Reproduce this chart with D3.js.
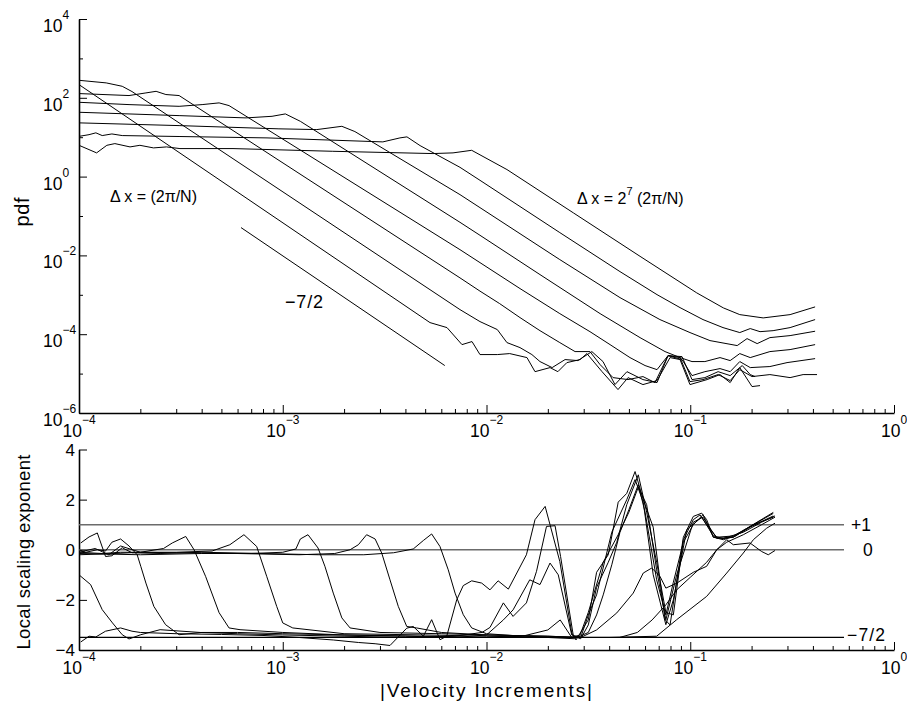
<!DOCTYPE html>
<html><head><meta charset="utf-8">
<script src="https://cdn.jsdelivr.net/npm/d3@7"></script>
<style>
body{margin:0;background:#fff;}
svg{display:block;}
text{font-family:"Liberation Sans",Arial,Helvetica,sans-serif;fill:#000;}
</style>
</head><body>
<svg id="chart" width="907" height="704"></svg>
<script>
// ---------------- DATA ----------------
const xTickExps = [-4, -3, -2, -1, 0];
const yTopMajorExps = [4, 2, 0, -2, -4, -6];
const yTopMinorExps = [3, 1, -1, -3, -5];
const yBotTicks = [4, 2, 0, -2, -4];

// pdf of |velocity increments| for separations dx = 2^k (2pi/N), k = 0..7
const pdf_r1 = [[1.00e-4,216],[5.28e-3,1.97e-4],[6.40e-3,1.47e-4],[7.58e-3,5.44e-5],[8.49e-3,6.5e-5],[9.29e-3,3.04e-5],[1.13e-2,3.04e-5],[1.30e-2,3.22e-5],[1.58e-2,2.55e-5],[1.73e-2,1.12e-5],[2.05e-2,1.42e-5],[2.24e-2,1.12e-5],[2.48e-2,1.90e-5],[2.88e-2,2.27e-5],[3.11e-2,3.22e-5],[3.69e-2,1.12e-5],[4.42e-2,3.93e-6],[4.95e-2,7.91e-6],[5.86e-2,5.26e-6],[6.87e-2,6.64e-6],[7.96e-2,2.55e-5],[8.91e-2,2.27e-5],[9.97e-2,5.26e-6],[0.121,7.05e-6],[0.140,9.44e-6],[0.157,5.91e-6],[0.175,1.42e-5],[0.201,4.68e-6],[0.220,4.96e-6]];
const pdf_r2 = [[1.00e-4,278],[1.36e-4,239],[1.63e-4,196],[1.82e-4,144],[7.41e-3,4.21e-4],[9.29e-3,2.09e-4],[1.13e-2,1.31e-4],[1.26e-2,6.12e-5],[1.46e-2,4.57e-5],[1.67e-2,3.04e-5],[1.83e-2,2.02e-5],[2.10e-2,1.42e-5],[2.43e-2,2.27e-5],[2.81e-2,2.14e-5],[3.29e-2,3.62e-5],[3.73e-2,2.02e-5],[4.27e-2,5.26e-6],[4.89e-2,1.12e-5],[5.86e-2,7.05e-6],[6.87e-2,5.91e-6],[7.78e-2,2.86e-5],[9.11e-2,2.70e-5],[0.102,7.05e-6],[0.118,7.91e-6],[0.137,1.12e-5],[0.157,8.90e-6],[0.180,1.60e-5],[0.197,9.44e-6],[0.208,8.40e-6]];
const pdf_r4 = [[1.00e-4,128],[1.76e-4,114],[2.13e-4,133],[2.39e-4,146],[2.67e-4,121],[3.10e-4,114],[7.41e-3,2.69e-3],[9.29e-3,1.24e-3],[1.16e-2,5.98e-4],[1.46e-2,2.64e-4],[1.83e-2,1.23e-4],[2.29e-2,6.12e-5],[2.72e-2,3.62e-5],[3.22e-2,3.62e-5],[3.61e-2,1.69e-5],[4.18e-2,7.91e-6],[4.95e-2,7.05e-6],[5.86e-2,8.40e-6],[6.71e-2,5.91e-6],[7.78e-2,2.86e-5],[8.91e-2,2.55e-5],[9.97e-2,6.26e-6],[0.1155,7.05e-6],[0.137,9.44e-6],[0.157,6.64e-6],[0.175,1.26e-5],[0.201,8.40e-6],[0.246,9.44e-6],[0.309,7.91e-6],[0.358,9.44e-6],[0.419,9.44e-6]];
const pdf_r8 = [[1.00e-4,76.9],[1.76e-4,67.2],[3.10e-4,60.8],[4.02e-4,67.2],[4.87e-4,74.3],[5.45e-4,63.4],[7.41e-3,1.40e-2],[9.29e-3,6.56e-3],[1.46e-2,1.44e-3],[2.29e-2,3.33e-4],[3.22e-2,1.16e-4],[4.04e-2,5.44e-5],[5.06e-2,2.55e-5],[6.00e-2,1.60e-5],[6.87e-2,1.26e-5],[7.78e-2,2.86e-5],[9.11e-2,2.27e-5],[0.102,8.90e-6],[0.118,1.12e-5],[0.140,1.34e-5],[0.157,1.12e-5],[0.175,2.02e-5],[0.197,1.42e-5],[0.246,1.51e-5],[0.2985,1.90e-5],[0.41,2.40e-5]];
const pdf_r16 = [[1.00e-4,42.9],[3.10e-4,35.3],[6.60e-4,30.9],[8.86e-4,33.9],[1.03e-3,39.0],[1.22e-3,25.3],[7.41e-3,0.0692],[9.29e-3,0.0324],[1.83e-2,3.26e-3],[3.61e-2,3.33e-4],[5.67e-2,8.19e-5],[7.52e-2,3.62e-5],[8.91e-2,2.55e-5],[0.102,2.02e-5],[0.118,2.02e-5],[0.140,2.55e-5],[0.157,2.14e-5],[0.175,3.22e-5],[0.197,2.55e-5],[0.246,3.62e-5],[0.309,4.07e-5],[0.41,5.44e-5]];
const pdf_r32 = [[1.00e-4,23.1],[3.10e-4,19.7],[9.58e-4,16.3],[1.47e-3,15.6],[1.95e-3,18.9],[2.26e-3,13.9],[7.41e-3,0.349],[9.29e-3,0.163],[2.29e-2,7.82e-3],[4.52e-2,8.49e-4],[7.10e-2,2.35e-4],[9.97e-2,1.10e-4],[0.125,6.88e-5],[0.170,5.14e-5],[0.190,7.73e-5],[0.213,5.77e-5],[0.246,8.19e-5],[0.309,9.21e-5],[0.41,1.19e-4]];
const pdf_r64 = [[1.00e-4,10.5],[1.12e-4,11.6],[1.21e-4,12.9],[1.30e-4,11.0],[1.45e-4,12.1],[1.63e-4,11.0],[3.13e-4,10.4],[8.37e-4,9.60],[3.10e-3,7.60],[3.76e-3,9.60],[4.07e-3,10.2],[4.72e-3,6.12],[7.41e-3,1.72],[9.29e-3,0.805],[2.29e-2,0.0379],[4.52e-2,3.88e-3],[6.87e-2,1.01e-3],[8.91e-2,4.73e-4],[0.1155,2.35e-4],[0.1448,1.47e-4],[0.175,1.10e-4],[0.197,1.39e-4],[0.220,1.16e-4],[0.255,1.23e-4],[0.309,1.47e-4],[0.41,2.35e-4]];
const pdf_r128 = [[1.00e-4,6.23],[1.22e-4,4.00],[1.37e-4,6.23],[1.50e-4,6.88],[1.78e-4,5.67],[1.99e-4,6.23],[2.32e-4,5.35],[2.69e-4,5.67],[3.13e-4,5.14],[5.70e-4,5.14],[1.76e-3,4.39],[5.46e-3,3.84],[6.85e-3,4.00],[8.46e-3,4.65],[1.26e-2,1.51],[2.67e-2,0.120],[5.67e-2,9.48e-3],[0.1076,1.12e-3],[0.1453,4.66e-4],[0.175,3.14e-4],[0.228,2.59e-4],[0.309,3.14e-4],[0.41,4.93e-4]];

// reference -7/2 slope segment
const slopeRef = [[6.24e-4,0.0508],[6.24e-3,1.6e-5]];

// local scaling exponent d(log pdf)/d(log |du|)
const lse_r1 = [[1.02e-4,-3.68],[1.12e-4,-3.45],[1.21e-4,-3.48],[1.35e-4,-3.25],[1.60e-4,-3.12],[1.82e-4,-3.25],[2.0e-4,-3.3],[3.0e-4,-3.35],[5e-4,-3.38],[8e-4,-3.42],[1.2e-3,-3.5],[1.77e-3,-3.6],[2.35e-3,-3.7],[2.84e-3,-3.75],[3.36e-3,-3.82],[4.06e-3,-3.13],[4.37e-3,-3.06],[4.90e-3,-3.45],[5.38e-3,-2.79],[5.91e-3,-3.59],[6.38e-3,-3.45],[7.14e-3,-2.0],[7.69e-3,-1.43],[8.46e-3,-1.24],[9.47e-3,-1.33],[1.04e-2,-1.6],[1.14e-2,-1.24],[1.28e-2,-1.57],[1.57e-2,-0.2],[1.73e-2,1.2],[1.94e-2,1.73],[2.05e-2,1.0],[2.29e-2,-0.47],[2.62e-2,-3.32],[2.75e-2,-3.6],[3.16e-2,-2.8],[3.47e-2,-0.9],[3.96e-2,-0.2],[4.43e-2,1.9],[4.88e-2,2.25],[5.36e-2,3.12],[5.88e-2,2.0],[6.58e-2,0.9],[7.52e-2,-2.79],[7.96e-2,-3.0],[9.25e-2,0.5],[0.1035,1.33],[0.1138,1.46],[0.1204,1.2],[0.1298,0.5],[0.1453,0.4],[0.1627,0.53],[0.1965,0.93],[0.2555,1.49]];
const lse_r2 = [[1.0e-4,-1.0],[1.14e-4,-1.39],[1.30e-4,-2.39],[1.46e-4,-2.92],[1.63e-4,-3.39],[1.76e-4,-3.56],[2.01e-4,-3.39],[2.5e-4,-3.19],[3.93e-4,-3.3],[6e-4,-3.35],[1e-3,-3.4],[2e-3,-3.45],[4e-3,-3.5],[7e-3,-3.45],[9.5e-3,-3.3],[1.04e-2,-3.1],[1.21e-2,-2.12],[1.35e-2,-2.66],[1.57e-2,-2.12],[1.76e-2,-0.86],[1.97e-2,0.93],[2.17e-2,0.96],[2.31e-2,-0.27],[2.67e-2,-3.45],[2.9e-2,-3.55],[3.16e-2,-3.0],[3.47e-2,-1.5],[3.96e-2,-0.5],[4.36e-2,0.3],[4.88e-2,1.8],[5.56e-2,2.99],[6.11e-2,1.5],[6.84e-2,-0.5],[7.59e-2,-2.5],[8.26e-2,-2.6],[9.25e-2,0.4],[0.1035,1.2],[0.1117,1.39],[0.1204,1.0],[0.1349,0.5],[0.1627,0.55],[0.1893,0.85],[0.2040,1.0],[0.2555,1.45]];
const lse_r4 = [[1.0e-4,0.0],[1.08e-4,-0.1],[1.23e-4,0.0],[1.35e-4,-0.05],[1.45e-4,0.3],[1.60e-4,0.43],[1.76e-4,0.15],[1.93e-4,-0.2],[2.01e-4,-0.66],[2.13e-4,-1.33],[2.33e-4,-2.26],[2.66e-4,-2.99],[3.10e-4,-3.39],[4e-4,-3.3],[6e-4,-3.3],[1e-3,-3.35],[2e-3,-3.4],[4e-3,-3.45],[7e-3,-3.5],[1.0e-2,-3.4],[1.21e-2,-2.8],[1.35e-2,-2.4],[1.63e-2,-1.2],[1.83e-2,-1.39],[2.05e-2,-0.53],[2.25e-2,-1.0],[2.62e-2,-3.4],[2.9e-2,-3.5],[3.16e-2,-2.6],[3.47e-2,-1.8],[4.12e-2,0.7],[4.88e-2,2.0],[5.36e-2,2.8],[5.88e-2,1.9],[6.58e-2,-1.0],[7.59e-2,-2.99],[8.26e-2,-2.0],[9.61e-2,0.8],[0.1138,1.3],[0.1298,0.55],[0.1453,0.45],[0.1627,0.5],[0.1965,0.9],[0.2555,1.35]];
const lse_r8 = [[1e-4,-0.1],[1.3e-4,-0.15],[1.6e-4,-0.1],[2e-4,-0.1],[2.6e-4,0.05],[2.87e-4,0.27],[3.34e-4,0.53],[3.67e-4,0.0],[4.18e-4,-1.06],[4.87e-4,-2.51],[5.45e-4,-3.12],[6.17e-4,-3.19],[1e-3,-3.3],[2e-3,-3.4],[5e-3,-3.45],[1e-2,-3.5],[1.5e-2,-3.45],[2e-2,-3.2],[2.3e-2,-2.8],[2.62e-2,-3.5],[2.88e-2,-3.4],[3.16e-2,-2.5],[3.74e-2,-0.5],[4.43e-2,0.6],[5.0e-2,1.5],[5.56e-2,2.5],[6.11e-2,1.8],[6.84e-2,-0.8],[7.59e-2,-2.8],[8.58e-2,-1.0],[0.1035,1.1],[0.1155,1.3],[0.1349,0.45],[0.1627,0.5],[0.2040,1.0],[0.2555,1.3]];
const lse_r16 = [[1e-4,-0.2],[1.5e-4,-0.15],[2e-4,-0.1],[3e-4,-0.1],[4.5e-4,-0.05],[5.5e-4,0.2],[6.45e-4,0.6],[7.45e-4,0.13],[8.34e-4,-1.06],[9.34e-4,-2.26],[1.0e-3,-2.92],[1.12e-3,-3.12],[2e-3,-3.35],[5e-3,-3.4],[1e-2,-3.45],[2e-2,-3.5],[2.7e-2,-3.55],[3.16e-2,-3.3],[3.47e-2,-2.6],[3.74e-2,-1.8],[4.12e-2,-0.6],[4.52e-2,0.7],[5.0e-2,1.6],[5.56e-2,2.6],[6.0e-2,1.5],[6.84e-2,-1.2],[7.59e-2,-2.6],[8.26e-2,-1.3],[9.25e-2,0.3],[0.1035,1.0],[0.1155,1.4],[0.1298,0.5],[0.1453,0.45],[0.1822,0.7],[0.2240,1.1],[0.2606,1.35]];
const lse_r32 = [[1e-4,-0.15],[2e-4,-0.2],[4e-4,-0.15],[7e-4,-0.15],[1.0e-3,-0.1],[1.16e-3,0.03],[1.22e-3,0.43],[1.33e-3,0.6],[1.49e-3,0.07],[1.61e-3,-0.66],[1.77e-3,-1.73],[1.95e-3,-2.72],[2.14e-3,-3.12],[3e-3,-3.3],[6e-3,-3.35],[1e-2,-3.4],[2e-2,-3.45],[2.9e-2,-3.5],[3.47e-2,-3.2],[4.36e-2,-2.52],[5.25e-2,-1.73],[5.88e-2,-0.93],[6.47e-2,-0.73],[7.1e-2,-1.06],[7.59e-2,-1.53],[8.6e-2,-1.33],[0.1035,-0.9],[0.1204,-0.66],[0.1349,0.0],[0.1510,0.4],[0.1627,0.2],[0.1965,0.27],[0.2240,-0.07],[0.2415,-0.2],[0.2606,-0.03]];
const lse_r64 = [[1e-4,-0.1],[1.2e-4,0.05],[1.4e-4,-0.2],[1.6e-4,0.15],[2e-4,-0.1],[3e-4,-0.12],[6e-4,-0.15],[1.2e-3,-0.2],[1.8e-3,-0.15],[2.14e-3,0],[2.35e-3,0.2],[2.58e-3,0.6],[2.84e-3,0.43],[3.06e-3,-0.13],[3.36e-3,-1.2],[3.69e-3,-2.26],[4.06e-3,-3.06],[4.54e-3,-3.12],[6e-3,-3.3],[1e-2,-3.4],[2e-2,-3.45],[3e-2,-3.5],[4.5e-2,-3.5],[5.5e-2,-3.3],[6.5e-2,-2.8],[7.59e-2,-2.2],[8.58e-2,-1.6],[0.1,-1.1],[0.1204,-0.5],[0.1349,0.0],[0.1510,0.3],[0.1822,0.6],[0.2240,1.0],[0.2606,1.3]];
const lse_r128 = [[1.02e-4,0.27],[1.12e-4,0.51],[1.23e-4,0.67],[1.35e-4,-0.27],[1.45e-4,-0.24],[1.63e-4,0.08],[1.82e-4,-0.12],[2.5e-4,-0.15],[4e-4,-0.1],[8e-4,-0.15],[1.5e-3,-0.2],[2.5e-3,-0.2],[3.5e-3,-0.12],[4.37e-3,0.03],[4.90e-3,0.37],[5.38e-3,0.63],[5.91e-3,0.13],[6.49e-3,-0.8],[7.01e-3,-1.73],[7.69e-3,-2.59],[8.46e-3,-3.12],[1.0e-2,-3.35],[1.5e-2,-3.45],[2.5e-2,-3.5],[4e-2,-3.5],[6.84e-2,-3.45],[8.58e-2,-2.79],[0.1204,-1.86],[0.1510,-0.93],[0.1822,-0.13],[0.2040,0.4],[0.2371,0.86],[0.2606,1.06]];

const refLevels = [1, 0, -3.5];
const refLabels = ["+1", "0", "\u22127/2"];
const refColors = ["#6b6b6b", "#6b6b6b", "#000"];

const pdfSeries = [pdf_r1, pdf_r2, pdf_r4, pdf_r8, pdf_r16, pdf_r32, pdf_r64, pdf_r128];
const lseSeries = [lse_r1, lse_r2, lse_r4, lse_r8, lse_r16, lse_r32, lse_r64, lse_r128];

// ---------------- DRAWING ----------------
const svg = d3.select("#chart");
const X0 = 79, X1 = 894;
const x = d3.scaleLog().domain([1e-4, 1]).range([X0, X1]);
const yTop = d3.scaleLog().domain([1e-6, 1e4]).range([413, 19]);
const yBot = d3.scaleLinear().domain([-4, 4]).range([650, 449.5]);

const minus = "\u2212";
function expText(e){ return e < 0 ? minus + Math.abs(e) : String(e); }

function powLabel(xPos, yBase, e, anchor){
  const t = svg.append("text").attr("x", xPos).attr("y", yBase)
    .attr("text-anchor", anchor).style("font-size", "17.5px");
  t.append("tspan").text("10");
  t.append("tspan").attr("dy", -13).style("font-size", "12px").text(expText(e));
  return t;
}

function xAxis(yPos){
  const g = svg.append("g").attr("transform", `translate(0,${yPos})`);
  const major = xTickExps.map(e => Math.pow(10, e));
  const minor = x.ticks().filter(v => !major.some(m => Math.abs(m - v) / m < 1e-9));
  g.call(d3.axisBottom(x).tickValues(major).tickSize(-8).tickSizeOuter(0).tickFormat(""));
  g.append("g").call(d3.axisBottom(x).tickValues(minor).tickSize(-4).tickSizeOuter(0).tickFormat(""))
    .select(".domain").remove();
  g.selectAll("path.domain").attr("stroke", "#000").attr("stroke-width", 1.6);
  g.selectAll("line").attr("stroke", "#000").attr("stroke-width", 1);
  xTickExps.forEach(e => powLabel(x(Math.pow(10, e)), yPos + 24, e, "middle"));
}

// ---- top panel ----
{
  const g = svg.append("g").attr("transform", `translate(${X0},0)`);
  g.call(d3.axisLeft(yTop).tickValues(yTopMajorExps.map(e => Math.pow(10, e))).tickSize(-8).tickSizeOuter(0).tickFormat(""));
  g.append("g").call(d3.axisLeft(yTop).tickValues(yTopMinorExps.map(e => Math.pow(10, e))).tickSize(-4).tickSizeOuter(0).tickFormat(""))
    .select(".domain").remove();
  g.selectAll("path.domain").attr("stroke", "#000").attr("stroke-width", 1.6);
  g.selectAll("line").attr("stroke", "#000");
  yTopMajorExps.forEach(e => powLabel(43, yTop(Math.pow(10, e)) + 13, e, "start"));
  xAxis(413);

  const line = d3.line().x(d => x(d[0])).y(d => yTop(d[1]));
  svg.append("g").selectAll("path").data(pdfSeries).join("path")
    .attr("d", line).attr("fill", "none").attr("stroke", "#000").attr("stroke-width", 1);
  svg.append("path").attr("d", line(slopeRef)).attr("fill", "none").attr("stroke", "#000").attr("stroke-width", 1);

  svg.append("text").attr("transform", "translate(29,212) rotate(-90)").attr("text-anchor", "middle")
    .attr("textLength", 29).style("font-size", "20px").text("pdf");

  svg.append("text").attr("x", 110).attr("y", 202).attr("textLength", 87).style("font-size", "16px").text("\u0394 x = (2\u03c0/N)");
  const t2 = svg.append("text").attr("x", 577).attr("y", 204).style("font-size", "16px");
  t2.append("tspan").text("\u0394 x = 2");
  t2.append("tspan").attr("dy", -9).style("font-size", "11px").text("7");
  t2.append("tspan").attr("dy", 9).text(" (2\u03c0/N)");
  svg.append("text").attr("x", 285).attr("y", 308).attr("textLength", 38).style("font-size", "18px").text(minus + "7/2");
}

// ---- bottom panel ----
{
  const g = svg.append("g").attr("transform", `translate(${X0},0)`);
  g.call(d3.axisLeft(yBot).tickValues(yBotTicks).tickSize(-8).tickSizeOuter(0).tickFormat(""));
  g.selectAll("path.domain").attr("stroke", "#000").attr("stroke-width", 1.6);
  g.selectAll("line").attr("stroke", "#000");
  yBotTicks.forEach(v => {
    svg.append("text").attr("x", 75).attr("y", yBot(v) + 6).attr("text-anchor", "end")
      .style("font-size", "17px").text(v < 0 ? minus + Math.abs(v) : String(v));
  });
  xAxis(650);

  refLevels.forEach((v, i) => {
    svg.append("line").attr("x1", X0).attr("x2", 844).attr("y1", yBot(v)).attr("y2", yBot(v))
      .attr("stroke", refColors[i]).attr("stroke-width", i < 2 ? 1.4 : 1.2);
  });
  svg.append("text").attr("x", 851).attr("y", yBot(1) + 6).style("font-size", "17.5px").text(refLabels[0]);
  svg.append("text").attr("x", 863).attr("y", yBot(0) + 6).style("font-size", "17.5px").text(refLabels[1]);
  svg.append("text").attr("x", 847).attr("y", yBot(-3.5) + 4).attr("textLength", 38).style("font-size", "17.5px").text(refLabels[2]);

  const line = d3.line().x(d => x(d[0])).y(d => yBot(d[1]));
  svg.append("g").selectAll("path").data(lseSeries).join("path")
    .attr("d", line).attr("fill", "none").attr("stroke", "#000").attr("stroke-width", 1);

  svg.append("text").attr("transform", "translate(29.5,552) rotate(-90)").attr("text-anchor", "middle")
    .attr("textLength", 195).style("font-size", "18.5px").text("Local scaling exponent");
  svg.append("text").attr("x", 486).attr("y", 697).attr("text-anchor", "middle")
    .attr("textLength", 212).style("font-size", "19px").text("|Velocity Increments|");
}
</script>
</body></html>
